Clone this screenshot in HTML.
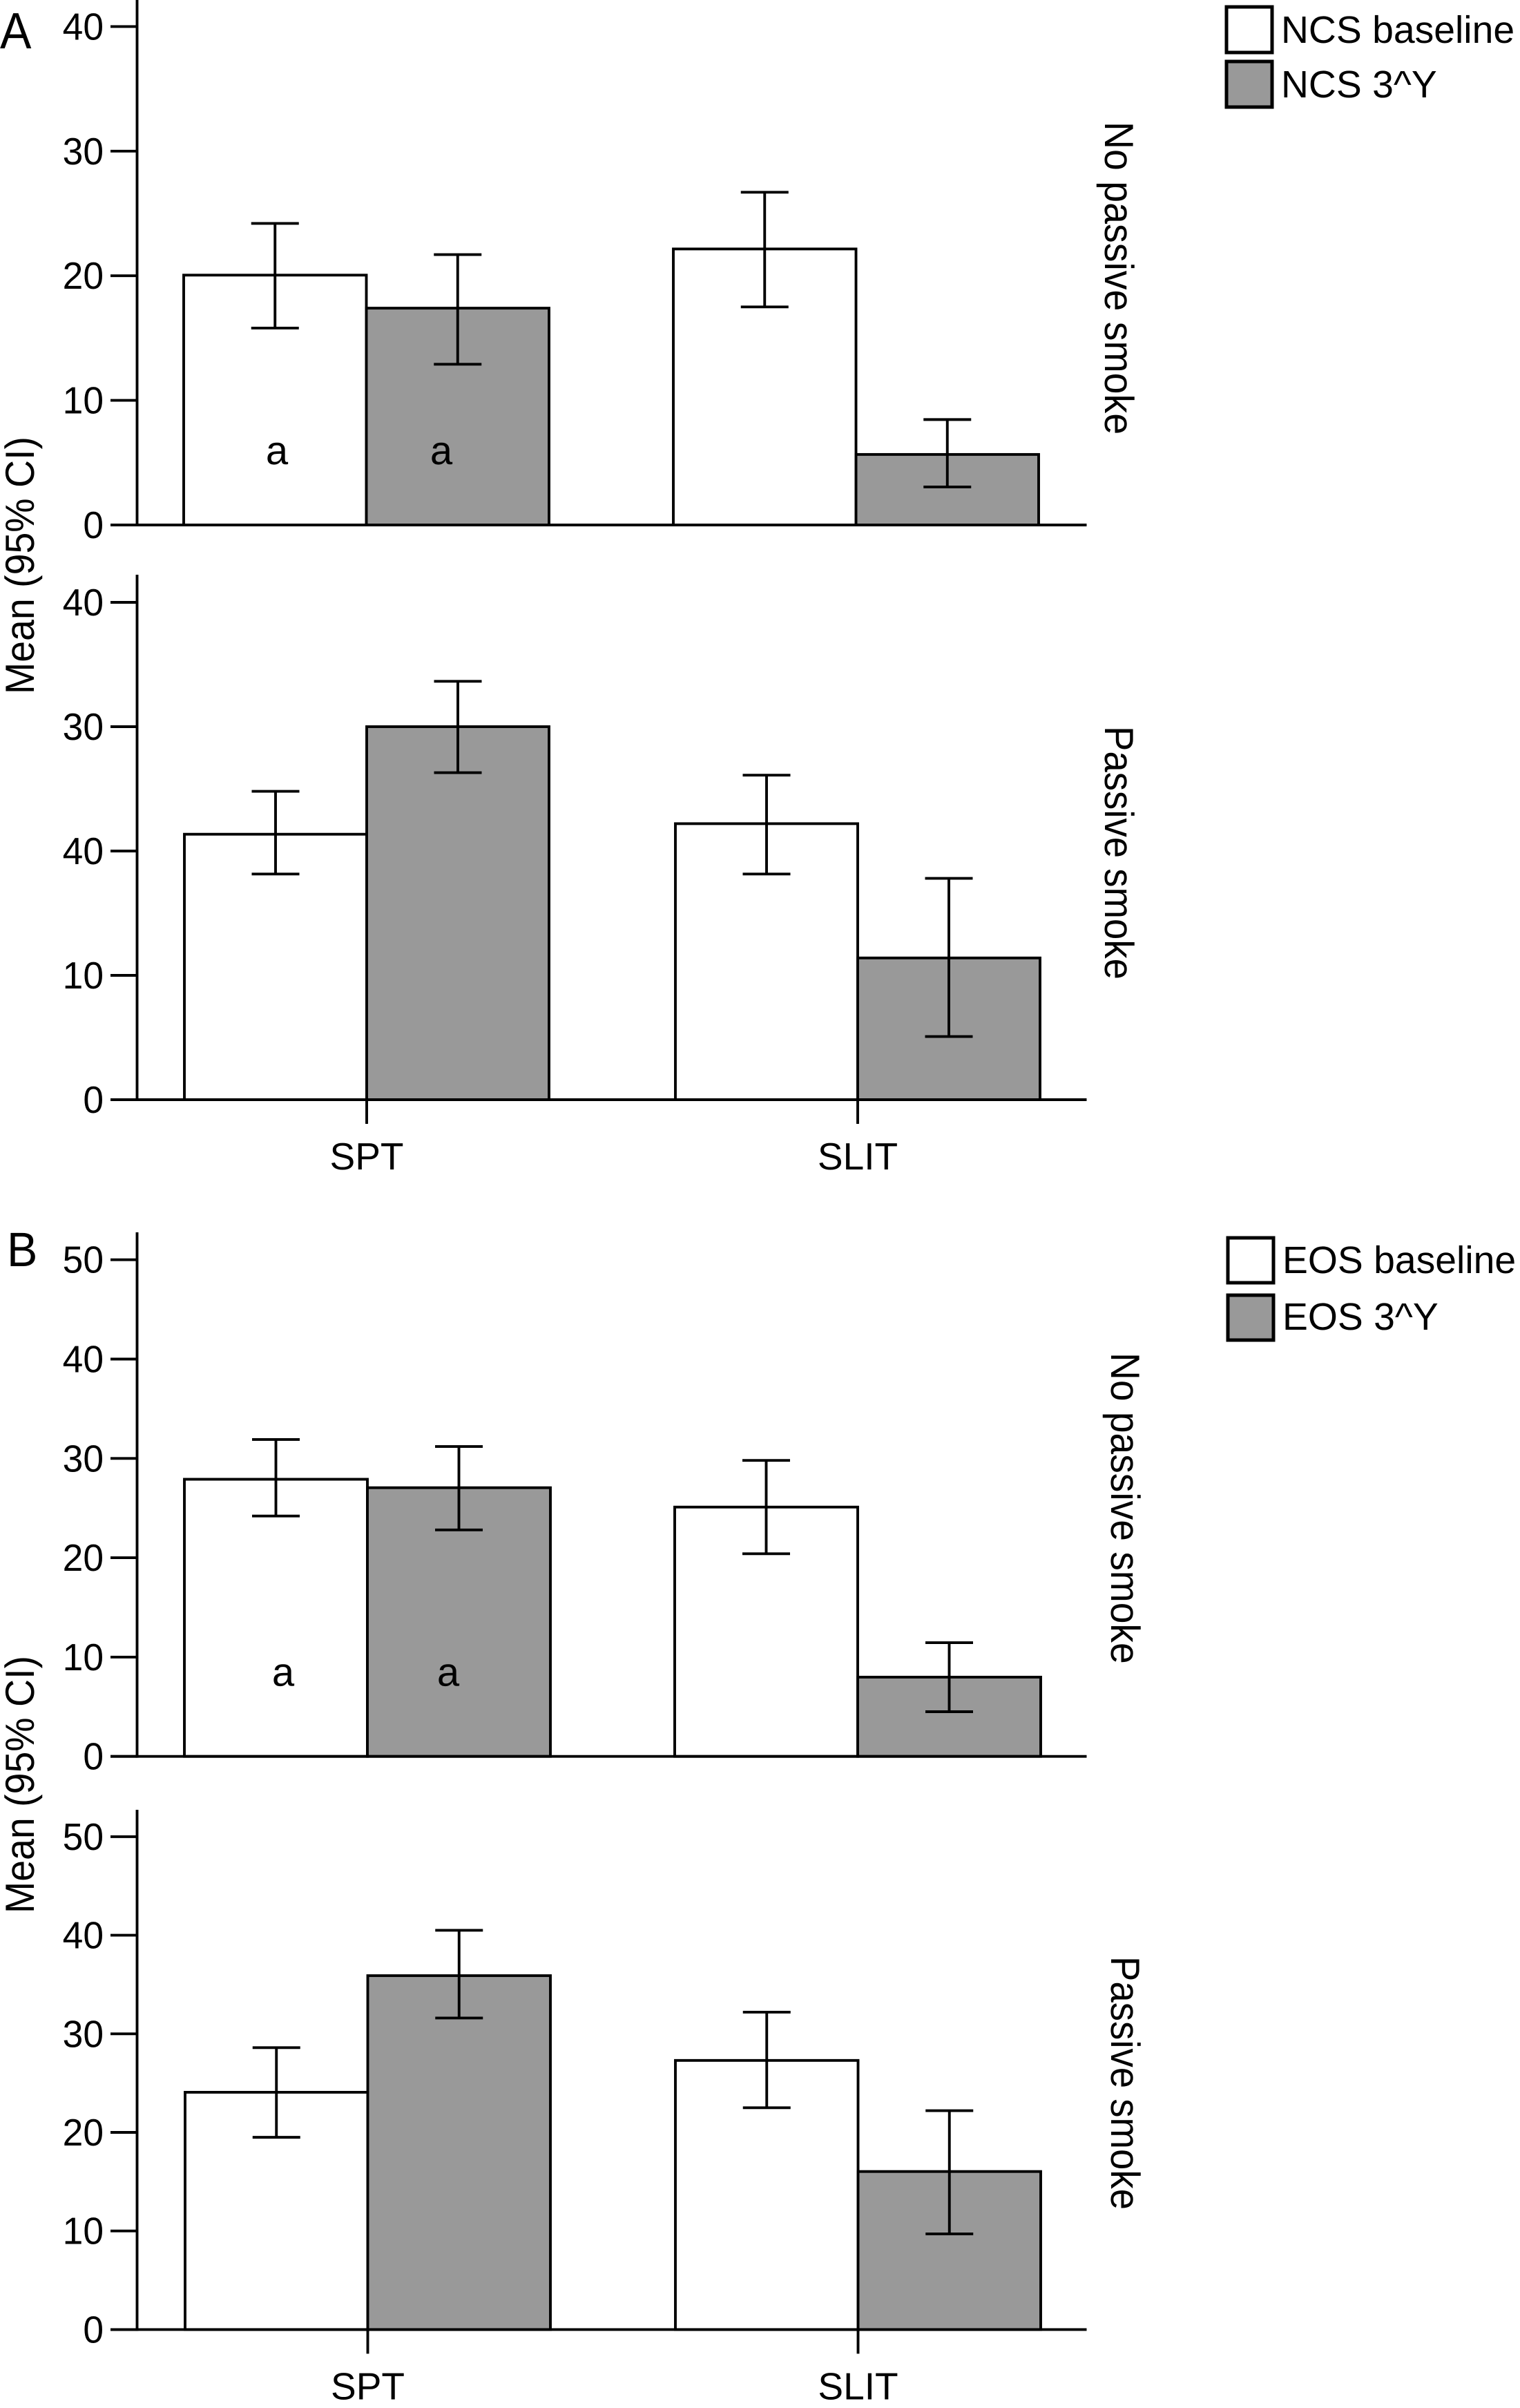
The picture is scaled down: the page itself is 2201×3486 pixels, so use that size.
<!DOCTYPE html>
<html lang="en">
<head>
<meta charset="utf-8">
<title>NCS and EOS scores by treatment and passive smoke</title>
<style>
html,body{margin:0;padding:0;background:#fff;}
svg{display:block;}
text{font-family:"Liberation Sans",sans-serif;fill:#000;text-rendering:geometricPrecision;}
</style>
</head>
<body>
<svg id="figure" xmlns="http://www.w3.org/2000/svg" width="2201" height="3486" viewBox="0 0 2201 3486"></svg>
<script>
// ---- data ----
const categories = ["SPT", "SLIT"];
const ticksA = [0, 10, 20, 30, 40];
const tickLabelsA1 = ["0", "10", "20", "30", "40"];
const tickLabelsA2 = ["0", "10", "40", "30", "40"];
const ticksB = [0, 10, 20, 30, 40, 50];
const tickLabelsB = ["0", "10", "20", "30", "40", "50"];

const a1Baseline = [20.05, 22.15];
const a1Followup = [17.4, 5.66];
const a1BaselineHigh = [24.2, 26.7];
const a1BaselineLow = [15.8, 17.5];
const a1FollowupHigh = [21.7, 8.46];
const a1FollowupLow = [12.9, 3.05];

const a2Baseline = [21.35, 22.2];
const a2Followup = [30.0, 11.4];
const a2BaselineHigh = [24.8, 26.1];
const a2BaselineLow = [18.15, 18.15];
const a2FollowupHigh = [33.65, 17.8];
const a2FollowupLow = [26.3, 5.08];

const b1Baseline = [27.9, 25.1];
const b1Followup = [27.05, 7.98];
const b1BaselineHigh = [31.9, 29.8];
const b1BaselineLow = [24.2, 20.4];
const b1FollowupHigh = [31.2, 11.45];
const b1FollowupLow = [22.8, 4.5];

const b2Baseline = [24.07, 27.3];
const b2Followup = [35.9, 16.03];
const b2BaselineHigh = [28.6, 32.2];
const b2BaselineLow = [19.5, 22.5];
const b2FollowupHigh = [40.5, 22.2];
const b2FollowupLow = [31.6, 9.7];

// ---- drawing helpers ----
const NS = "http://www.w3.org/2000/svg";
const root = document.getElementById("figure");
const STROKE = 3.9;
const GRAY = "#999999";
const AXIS_X = 198.5;
const AXIS_RIGHT = 1573.5;
const TICK_LEFT = 160;
const CAP = 34.5;

function line(parent, name, x1, y1, x2, y2) {
  const el = document.createElementNS(NS, "line");
  el.setAttribute("x1", x1);
  el.setAttribute("y1", y1);
  el.setAttribute("x2", x2);
  el.setAttribute("y2", y2);
  el.setAttribute("stroke", "#000");
  el.setAttribute("stroke-width", STROKE);
  
  
  parent.appendChild(el);
  return el;
}
function rect(parent, name, x, y, w, h, fill, sw) {
  const el = document.createElementNS(NS, "rect");
  el.setAttribute("x", x);
  el.setAttribute("y", y);
  el.setAttribute("width", w);
  el.setAttribute("height", h);
  el.setAttribute("fill", fill);
  el.setAttribute("stroke", "#000");
  el.setAttribute("stroke-width", sw || STROKE);
  
  
  parent.appendChild(el);
  return el;
}
function label(parent, name, x, y, str, size, anchor, rot, sx) {
  const el = document.createElementNS(NS, "text");
  el.setAttribute("transform", "translate(" + x + " " + y + ") rotate(" + (rot || 0) + ") scale(" + (sx || 1) + " 1)");
  el.setAttribute("font-size", size);
  el.setAttribute("text-anchor", anchor || "start");
  
  
  el.textContent = str;
  parent.appendChild(el);
  return el;
}
function group(name) {
  const el = document.createElementNS(NS, "g");
  
  
  root.appendChild(el);
  return el;
}

function drawPanel(cfg) {
  const g = group(cfg.name);
  const yScale = v => cfg.y0 - v * cfg.unit;
  const barLeft = (i, s) => cfg.left + i * cfg.step + s * cfg.barW;

  [0, 1].forEach(i => {
    const cat = categories[i].toLowerCase();
    const series = [
      { key: "baseline", vals: cfg.baseline, hi: cfg.baseHigh, lo: cfg.baseLow, fill: "#fff", s: 0 },
      { key: "followup", vals: cfg.followup, hi: cfg.followHigh, lo: cfg.followLow, fill: GRAY, s: 1 }
    ];
    series.forEach(sr => {
      const x = barLeft(i, sr.s);
      const top = yScale(sr.vals[i]);
      rect(g, "bar-" + cat + "-" + sr.key, x, top, cfg.barW, cfg.y0 - top, sr.fill);
    });
    series.forEach(sr => {
      const cx = barLeft(i, sr.s) + cfg.barW / 2;
      const yh = yScale(sr.hi[i]);
      const yl = yScale(sr.lo[i]);
      line(g, "error-bar-" + cat + "-" + sr.key, cx, yh, cx, yl);
      line(g, "error-cap-high-" + cat + "-" + sr.key, cx - CAP, yh, cx + CAP, yh);
      line(g, "error-cap-low-" + cat + "-" + sr.key, cx - CAP, yl, cx + CAP, yl);
    });
  });

  line(g, "y-axis-line", AXIS_X, cfg.axisTop, AXIS_X, cfg.y0 + STROKE / 2);
  line(g, "x-axis-line", TICK_LEFT, cfg.y0, AXIS_RIGHT, cfg.y0);

  cfg.ticks.forEach((t, i) => {
    const y = yScale(t);
    line(g, "y-tick-" + t, TICK_LEFT, y, AXIS_X, y);
    label(g, "y-tick-label", 150, y + 19, cfg.tickLabels[i], 55, "end", 0, 0.97);
  });

  if (cfg.showCategories) {
    categories.forEach((c, i) => {
      const x = barLeft(i, 1);
      line(g, "x-tick-" + c.toLowerCase(), x, cfg.y0, x, cfg.y0 + 35);
      label(g, "x-label-" + c.toLowerCase(), x, cfg.y0 + 101, c, 55, "middle");
    });
  }

  label(g, "facet-label", cfg.stripX, cfg.stripY, cfg.strip, 59, "start", 90, cfg.stripSx);

  if (cfg.note) {
    label(g, "annotation-a", cfg.note[0], cfg.noteY, "a", 58, "middle");
    label(g, "annotation-a", cfg.note[1], cfg.noteY, "a", 58, "middle");
  }
}

drawPanel({
  name: "panel-a-no-passive-smoke", y0: 760, unit: 18.04, axisTop: 0, left: 266, step: 709, barW: 264.5,
  ticks: ticksA, tickLabels: tickLabelsA1,
  baseline: a1Baseline, followup: a1Followup, baseHigh: a1BaselineHigh, baseLow: a1BaselineLow, followHigh: a1FollowupHigh, followLow: a1FollowupLow,
  strip: "No passive smoke", stripX: 1600, stripY: 176, stripSx: 0.94, note: [401, 639], noteY: 672, showCategories: false
});
drawPanel({
  name: "panel-a-passive-smoke", y0: 1592, unit: 18.0, axisTop: 832, left: 267, step: 711, barW: 264,
  ticks: ticksA, tickLabels: tickLabelsA2,
  baseline: a2Baseline, followup: a2Followup, baseHigh: a2BaselineHigh, baseLow: a2BaselineLow, followHigh: a2FollowupHigh, followLow: a2FollowupLow,
  strip: "Passive smoke", stripX: 1600, stripY: 1051, stripSx: 0.925, showCategories: true
});
drawPanel({
  name: "panel-b-no-passive-smoke", y0: 2542.7, unit: 14.38, axisTop: 1784, left: 267, step: 710, barW: 265,
  ticks: ticksB, tickLabels: tickLabelsB,
  baseline: b1Baseline, followup: b1Followup, baseHigh: b1BaselineHigh, baseLow: b1BaselineLow, followHigh: b1FollowupHigh, followLow: b1FollowupLow,
  strip: "No passive smoke", stripX: 1609, stripY: 1958, stripSx: 0.935, note: [410, 649], noteY: 2440.5, showCategories: false
});
drawPanel({
  name: "panel-b-passive-smoke", y0: 3372.4, unit: 14.27, axisTop: 2620, left: 268, step: 710, barW: 264.5,
  ticks: ticksB, tickLabels: tickLabelsB,
  baseline: b2Baseline, followup: b2Followup, baseHigh: b2BaselineHigh, baseLow: b2BaselineLow, followHigh: b2FollowupHigh, followLow: b2FollowupLow,
  strip: "Passive smoke", stripX: 1609, stripY: 2832, stripSx: 0.925, showCategories: true
});

// ---- panel letters, y titles, legends ----
const misc = group("figure-annotations");
label(misc, "panel-letter-a", 0, 70, "A", 74, "start", 0, 0.92);
label(misc, "panel-letter-b", 10, 1833, "B", 70, "start", 0, 0.95);
label(misc, "y-axis-title-a", 49, 1005, "Mean (95% CI)", 59, "start", -90, 0.94);
label(misc, "y-axis-title-b", 49, 2770, "Mean (95% CI)", 59, "start", -90, 0.94);

function legendEntry(name, x, y, h, fill, textX, baseline, str) {
  const g = group(name);
  rect(g, "legend-swatch", x, y, 66, h, fill, 5);
  label(g, "legend-label", textX, baseline, str, 55.3);
}
legendEntry("legend-entry-ncs-baseline", 1776, 10, 66, "#fff", 1855, 62, "NCS baseline");
legendEntry("legend-entry-ncs-3y", 1776, 89, 66, GRAY, 1855, 141, "NCS 3^Y");
legendEntry("legend-entry-eos-baseline", 1778, 1792, 65, "#fff", 1857, 1843, "EOS baseline");
legendEntry("legend-entry-eos-3y", 1778, 1875, 65, GRAY, 1857, 1925, "EOS 3^Y");
</script>
</body>
</html>
